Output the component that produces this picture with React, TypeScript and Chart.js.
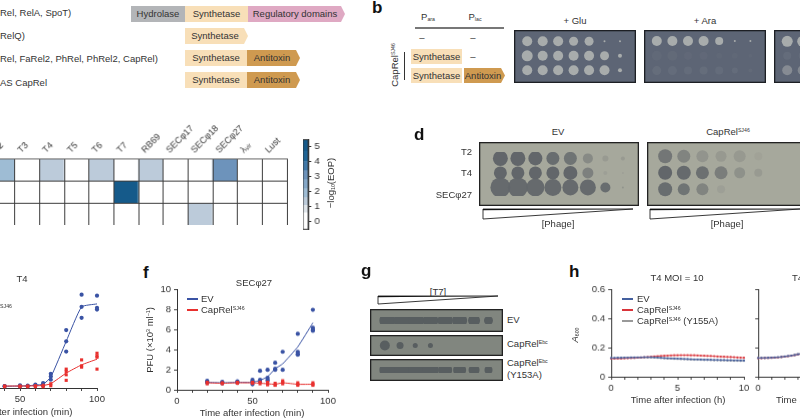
import React, { useEffect, useRef } from "react";
import { Chart, registerables } from "chart.js";

Chart.register(...registerables);
const FONT = "'Liberation Sans', Arial, sans-serif";
Chart.defaults.font.family = FONT;
Chart.defaults.font.size = 9.5;
Chart.defaults.color = "#333";

// ---------- data ----------
const heatColumns = ["T2", "T3", "T4", "T5", "T6", "T7", "RB69", "SECφ17", "SECφ18", "SECφ27", "λᵥᵢᵣ", "Lust"];
const heatRowA = [2.0, 0, 1.4, 0, 1.4, 0, 1.4, 0, 0, 3, 0, 0];
const heatRowB = [0, 0, 0, 0, 0, 5, 0, 0, 0, 0, 0, 0];
const heatRowC = [0, 0, 0, 0, 0, 0, 0, 0, 1.4, 0, 0, 0];
const binEdges = [-0.5, 0.6, 1.1, 1.6, 2.2, 2.8, 3.4, 4.0, 4.7, 5.45];
const binColors = ["#ffffff", "#dfe5ea", "#bccbda", "#9ebcd4", "#85a8c8", "#6d93bb", "#3f78a8", "#1f6596", "#155a8a"];

const eTimes = [40, 50, 55, 60, 65, 70, 80, 90, 100];
const eEvPoints = [[0.2, 0.17], [0.27, 0.17], [0.23, 0.17], [0.33, 0.23], [0.5, 0.33, 0.23], [1.43, 1.17, 0.83], [5.83, 4.7, 3.67], [9.4, 8.17, 7.07], [9.3, 8.07, 7.9]];
const eEvLine = [0.17, 0.2, 0.22, 0.3, 0.37, 1.1, 4.7, 8.17, 8.47];
const eCapPoints = [[0.2, 0.13], [0.2, 0.13], [0.2, 0.13], [0.23, 0.13], [0.27, 0.13], [0.43, 0.23], [1.9, 1.67, 1.33, 0.77], [2.83, 2.23, 2.1], [3.5, 3.23, 3.1, 1.9]];
const eCapLine = [0.2, 0.2, 0.2, 0.22, 0.25, 0.43, 1.5, 2.33, 2.9];

const fTimes = [20, 30, 40, 50, 55, 60, 65, 70, 80, 90];
const fEvPoints = [[0.9, 0.8, 0.7], [0.8, 0.7, 0.65], [0.85, 0.75, 0.7], [1.0, 0.85, 0.75, 0.55], [1.9, 1.0, 0.8], [2.0, 1.2, 1.0, 0.9], [2.7, 2.1, 2.0], [3.8, 2.0], [5.6, 3.8, 3.6, 3.5], [8.0, 6.2, 6.0, 5.9]];
const fEvLine = [0.75, 0.7, 0.75, 0.75, 0.95, 1.3, 2.1, 2.6, 4.3, 6.7];
const fCapPoints = [[0.75, 0.6], [0.7, 0.6], [0.75, 0.65], [0.75, 0.65], [0.75, 0.6], [0.75, 0.6, 0.5], [0.65, 0.5, 0.45], [0.9, 0.75, 0.6], [0.7, 0.55, 0.45], [0.7, 0.55, 0.45]];
const fCapLine = [0.7, 0.65, 0.7, 0.7, 0.65, 0.6, 0.55, 0.7, 0.55, 0.55];

const hHours = [0, 0.25, 0.5, 0.75, 1, 1.25, 1.5, 1.75, 2, 2.25, 2.5, 2.75, 3, 3.25, 3.5, 3.75, 4, 4.25, 4.5, 4.75, 5, 5.25, 5.5, 5.75, 6, 6.25, 6.5, 6.75, 7, 7.25, 7.5, 7.75, 8, 8.25, 8.5, 8.75, 9, 9.25, 9.5, 9.75, 10];
const h1Ev = [0.13, 0.13, 0.131, 0.131, 0.132, 0.132, 0.133, 0.133, 0.134, 0.134, 0.135, 0.135, 0.135, 0.134, 0.133, 0.131, 0.129, 0.128, 0.127, 0.126, 0.125, 0.124, 0.123, 0.122, 0.121, 0.12, 0.12, 0.119, 0.118, 0.118, 0.117, 0.116, 0.116, 0.115, 0.115, 0.114, 0.114, 0.113, 0.113, 0.112, 0.112];
const h1Cap = [0.125, 0.125, 0.126, 0.126, 0.127, 0.128, 0.129, 0.13, 0.132, 0.133, 0.135, 0.136, 0.138, 0.14, 0.142, 0.144, 0.145, 0.146, 0.147, 0.148, 0.148, 0.149, 0.149, 0.149, 0.148, 0.148, 0.147, 0.146, 0.145, 0.144, 0.143, 0.142, 0.14, 0.139, 0.138, 0.137, 0.136, 0.135, 0.133, 0.132, 0.131];
const h1Mut = [0.128, 0.128, 0.129, 0.129, 0.13, 0.13, 0.131, 0.131, 0.132, 0.132, 0.133, 0.133, 0.133, 0.132, 0.131, 0.129, 0.127, 0.126, 0.125, 0.124, 0.123, 0.122, 0.121, 0.12, 0.119, 0.118, 0.118, 0.117, 0.116, 0.116, 0.115, 0.114, 0.114, 0.113, 0.113, 0.112, 0.112, 0.111, 0.111, 0.11, 0.11];
const h2Hours = [0, 0.25, 0.5, 0.75, 1, 1.25, 1.5, 1.75, 2, 2.25, 2.5, 2.75, 3, 3.25, 3.5];
const h2Ev = [0.13, 0.13, 0.13, 0.131, 0.132, 0.133, 0.135, 0.137, 0.14, 0.143, 0.146, 0.15, 0.155, 0.16, 0.165];
const h2Cap = [0.128, 0.128, 0.129, 0.13, 0.131, 0.132, 0.134, 0.136, 0.139, 0.142, 0.145, 0.149, 0.154, 0.159, 0.164];
const h2Mut = [0.129, 0.129, 0.13, 0.13, 0.131, 0.132, 0.134, 0.136, 0.139, 0.142, 0.146, 0.15, 0.155, 0.16, 0.166];

const gluRadii = [[5, 5, 5, 4.5, 4.5, 1, 1], [5.5, 5, 5, 5, 5, 4.5, 2], [5, 5, 5, 5, 5, 5, 2]];
const gluAlpha = [[1, 1, 1, 1, 1, 1, 1], [1, 1, 1, 1, 1, 1, 1], [1, 1, 1, 1, 1, 1, 1]];
const araRadii = [[5, 5, 5, 5, 4, 1, 1], [5, 5, 4, 4, 3, 3, 2], [4.5, 4.5, 4, 4, 4, 3, 2]];
const araAlpha = [[1, 1, 1, 1, 1, 1, 1], [0.06, 0.08, 0.05, 0.05, 0.04, 0.04, 0.04], [0.12, 0.1, 0.1, 0.12, 0.1, 0.1, 0.08]];
const thirdRadii = [[5.5, 5.5, 5, 5, 5, 2, 1], [4, 4, 3, 3, 3, 2, 2], [5, 5, 5, 5, 5, 3, 2]];
const thirdAlpha = [[1, 1, 1, 1, 1, 1, 1], [0.1, 0.1, 0.05, 0.05, 0.05, 0.05, 0.05], [0.55, 0.5, 0.5, 0.5, 0.4, 0.3, 0.2]];

const dEvRadii = [[7.5, 7.5, 7, 6.5, 6.5, 5, 3, 2], [6.5, 6.5, 6.5, 6.5, 7, 5.5, 2, 1], [10, 10, 9, 8.5, 8, 8, 5, 1]];
const dEvAlpha = [[1, 1, 1, 0.9, 0.8, 0.45, 0.2, 0.2], [1, 1, 1, 1, 1, 0.6, 0.12, 0.12], [0.95, 0.95, 0.95, 0.95, 0.95, 0.95, 0.9, 0.3]];
const dCapRadii = [[7, 6.5, 6, 5.5, 6, 4], [7, 7, 6.5, 6.5, 5.5, 4], [7, 6, 6, 4, 0, 0]];
const dCapAlpha = [[0.75, 0.55, 0.3, 0.22, 0.22, 0.08], [1, 0.95, 0.85, 0.65, 0.35, 0.2], [0.9, 0.8, 0.55, 0.12, 0, 0]];

const gEvRadii = [[8, 8, 8, 7.5, 7.5, 7.5, 6, 4.5]];
const gCapRadii = [[5, 3.5, 2.5, 2.5, 0, 0, 0, 0]];
const gMutRadii = [[8, 8, 8, 8, 7, 6.5, 5.5, 4]];
const solidRow = [[1, 1, 1, 1, 1, 1, 1, 1]];

// ---------- helpers ----------
type Rect = { x: number; y: number; w: number; h: number };

function Panel({ left, top, width, height, make, blur }: any) {
  const ref = useRef<HTMLCanvasElement>(null);
  useEffect(() => {
    const c = new Chart(ref.current as HTMLCanvasElement, make());
    return () => c.destroy();
  }, []);
  return (
    <canvas
      ref={ref}
      width={width}
      height={height}
      style={{ position: "absolute", left, top, width, height, filter: blur ? `blur(${blur}px)` : undefined }}
    />
  );
}

function T({ x, y, s = 9.5, a = "l", b, c = "#333", rot, children }: any) {
  const tx = a === "l" ? "0" : a === "r" ? "-100%" : "-50%";
  return (
    <div
      style={{
        position: "absolute", left: x, top: y, fontFamily: FONT, fontSize: s, lineHeight: 1, color: c,
        fontWeight: b ? 700 : 400, whiteSpace: "nowrap",
        transform: `translate(${tx},-50%)${rot ? ` rotate(${rot}deg)` : ""}`,
      }}
    >
      {children}
    </div>
  );
}
const Sup = ({ children }: any) => <sup style={{ fontSize: "55%", lineHeight: 0, verticalAlign: "0.55em" }}>{children}</sup>;
const Sub = ({ children }: any) => <sub style={{ fontSize: "55%", lineHeight: 0, verticalAlign: "-0.2em" }}>{children}</sub>;

function Dom({ x, y, w, h = 16, c, arrow, children }: any) {
  const p = arrow ? `polygon(0 0, ${w - 4}px 0, ${w}px 50%, ${w - 4}px 100%, 0 100%)` : undefined;
  return (
    <div
      style={{
        position: "absolute", left: x, top: y, width: w, height: h, background: c, clipPath: p, fontFamily: FONT,
        fontSize: 9.5, color: "#333", lineHeight: `${h}px`, textAlign: "center", paddingRight: arrow ? 3 : 0, boxSizing: "border-box",
      }}
    >
      {children}
    </div>
  );
}

function Wedge({ x, y, w, h }: any) {
  return (
    <svg style={{ position: "absolute", left: x, top: y, overflow: "visible" }} width={w} height={h}>
      <polygon points={`0,0 ${w},0 0,${h}`} fill="#fff" stroke="#222" strokeWidth={0.9} />
      <polygon points={`0,0 ${w},0 0,1.2`} fill="#111" />
    </svg>
  );
}

const Key = ({ x, y, c }: any) => <div style={{ position: "absolute", left: x, top: y - 0.75, width: 11, height: 1.5, background: c }} />;

function plotConfig(datasets: any[], r: Rect, m: any, xo: any, yo: any) {
  return {
    type: "scatter",
    data: { datasets },
    options: {
      animation: false, responsive: false, events: [],
      layout: { padding: { top: m.t, right: m.r } },
      plugins: { legend: { display: false }, tooltip: { enabled: false } },
      scales: {
        x: {
          type: "linear", ...xo,
          grid: { drawOnChartArea: false, tickLength: 3, color: "#333", lineWidth: 0.9 },
          border: { color: "#333", width: 1 },
          ticks: { ...xo.ticks, autoSkip: false, padding: 3, maxRotation: 0, minRotation: 0 },
          afterFit: (s: any) => { s.height = m.b; },
        },
        y: {
          type: "linear", ...yo,
          grid: { drawOnChartArea: false, tickLength: 3, color: "#333", lineWidth: 0.9 },
          border: { color: "#333", width: 1 },
          ticks: { ...yo.ticks, autoSkip: false, padding: 3 },
          afterFit: (s: any) => { s.width = m.l; },
        },
      },
    },
  };
}
const spread = (times: number[], vals: number[][]) => times.flatMap((t, i) => vals[i].map((y) => ({ x: t, y })));
const zipLine = (times: number[], vals: number[]) => times.map((t, i) => ({ x: t, y: vals[i] }));
const pts = (data: any[], color: string, style: string, radius: number) => ({ data, pointStyle: style, pointRadius: radius, pointBackgroundColor: color, pointBorderWidth: 0, showLine: false, clip: false });
const line = (data: any[], color: string) => ({ data, showLine: true, pointRadius: 0, borderColor: color, borderWidth: 1, tension: 0.15, clip: false });
const BLUE = "#3a53a4";
const RED = "#e8302e";
const M = { l: 30, t: 8, r: 14, b: 34 };
const place = (r: Rect) => ({ left: r.x - M.l, top: r.y - M.t, width: r.w + M.l + M.r, height: r.h + M.t + M.b });

const timeAxis = (max: number, step: number, major: number) => ({
  min: 0, max,
  ticks: { stepSize: step, callback: (v: number) => (v % major === 0 ? String(v) : "") },
});

const rectE = { x: -57.3, y: 288.3, w: 154.6, h: 100 };
const rectF = { x: 176.7, y: 289.3, w: 151.4, h: 100.7 };
const rectH1 = { x: 611, y: 289, w: 132.7, h: 87.7 };
const rectH2 = { x: 758.3, y: 289, w: 132.7, h: 87.7 };

const makeE = () => plotConfig(
  [pts(spread(eTimes, eCapPoints), RED, "rect", 2.2), line(zipLine(eTimes, eCapLine), RED), pts(spread(eTimes, eEvPoints), BLUE, "circle", 2.1), line(zipLine(eTimes, eEvLine), BLUE)],
  rectE, M, timeAxis(100, 10, 50), { min: 0, max: 10, ticks: { stepSize: 2 } });
const makeF = () => plotConfig(
  [pts(spread(fTimes, fCapPoints), RED, "rect", 2.2), line(zipLine(fTimes, fCapLine), RED), pts(spread(fTimes, fEvPoints), BLUE, "circle", 2.1), line(zipLine(fTimes, fEvLine), BLUE)],
  rectF, M, timeAxis(100, 10, 50), { min: 0, max: 10, ticks: { stepSize: 2 } });

const hDash = (data: any[], color: string) => ({ data, showLine: true, borderColor: color, borderWidth: 0.8, pointRadius: 1.1, pointBackgroundColor: color, pointBorderWidth: 0, clip: false });
const hY = (show: boolean) => ({ min: 0, max: 0.6, ticks: { stepSize: 0.2, callback: (v: number) => (!show ? "" : Math.abs(v) < 1e-6 ? "0" : v.toFixed(1)) } });
const makeH1 = () => plotConfig(
  [hDash(zipLine(hHours, h1Ev), "#44609f"), hDash(zipLine(hHours, h1Cap), "#d9343a"), hDash(zipLine(hHours, h1Mut), "#999")],
  rectH1, M, timeAxis(10, 1, 5), hY(true));
const makeH2 = () => plotConfig(
  [hDash(zipLine(h2Hours, h2Ev), "#44609f"), hDash(zipLine(h2Hours, h2Cap), "#d9343a"), hDash(zipLine(h2Hours, h2Mut), "#999")],
  rectH2, M, timeAxis(10, 1, 5), hY(false));

const eopColor = (v: number) => {
  let i = binColors.length - 1;
  while (i > 0 && v < binEdges[i]) i--;
  return binColors[i];
};

const heatRect = { x: -9.7, y: 158.3, w: 296.7, h: 66.7 };
const makeHeat = () => ({
  type: "bar",
  data: {
    labels: heatColumns,
    datasets: [heatRowA, heatRowB, heatRowC].map((row) => ({
      data: row.map(() => 1),
      backgroundColor: row.map(eopColor),
      borderWidth: 0,
      barPercentage: 1,
      categoryPercentage: 1,
    })),
  },
  options: {
    animation: false, responsive: false, events: [],
    layout: { padding: { right: 30 } },
    plugins: { legend: { display: false }, tooltip: { enabled: false } },
    scales: {
      x: {
        position: "top", stacked: true,
        grid: { offset: true, drawTicks: false, color: "#3c3c3c", lineWidth: 1, z: 1 },
        border: { color: "#666", width: 1, z: 2 },
        ticks: { minRotation: 45, maxRotation: 45, autoSkip: false, padding: 3, font: { size: 9 } },
        afterFit: (s: any) => { s.height = 40; },
      },
      y: {
        stacked: true, min: 0, max: 3, reverse: true,
        grid: { drawTicks: false, color: "#3c3c3c", lineWidth: 1, z: 1 },
        border: { display: false },
        ticks: { stepSize: 1, display: false },
        afterFit: (s: any) => { s.width = 0; },
      },
    },
  },
});

const barRect = { x: 303, y: 137, w: 5.5, h: 95 };
const frame = {
  id: "frame",
  afterDraw(c: any) {
    const a = c.chartArea, g = c.ctx;
    g.save(); g.strokeStyle = "#333"; g.lineWidth = 1;
    g.strokeRect(a.left, a.top, a.right - a.left, a.bottom - a.top);
    g.restore();
  },
};
const makeBar = () => ({
  type: "bar",
  data: {
    labels: ["EOP"],
    datasets: binColors.map((col, i) => ({
      data: [[binEdges[i], binEdges[i + 1]]],
      backgroundColor: col, borderWidth: 0, barPercentage: 1, categoryPercentage: 1,
    })),
  },
  options: {
    animation: false, responsive: false, events: [],
    layout: { padding: { top: 6, bottom: 6 } },
    plugins: { legend: { display: false }, tooltip: { enabled: false } },
    scales: {
      x: { stacked: true, display: false },
      y: {
        position: "right", min: -0.5, max: 5.45,
        grid: { drawOnChartArea: false, tickLength: 3, color: "#333" },
        border: { color: "#333" },
        ticks: { stepSize: 1, padding: 3, callback: (v: number) => (Number.isInteger(v) ? String(v) : "") , includeBounds: false },
        afterFit: (s: any) => { s.width = 24; },
      },
    },
  },
  plugins: [frame],
});

function plateConfig(radii: number[][], alpha: number[][], spot: string, bg: string, xr: number[], yr: number[], edge: string) {
  const data: any[] = [];
  const colors: string[] = [];
  radii.forEach((row, j) => row.forEach((r, i) => {
    if (r > 0) { data.push({ x: i, y: j, r }); colors.push(`rgba(${spot},${alpha[j][i]})`); }
  }));
  return {
    type: "bubble",
    data: { datasets: [{ data, backgroundColor: colors, borderWidth: 0 }] },
    options: {
      animation: false, responsive: false, events: [],
      plugins: { legend: { display: false }, tooltip: { enabled: false } },
      scales: {
        x: { display: false, min: xr[0], max: xr[1] },
        y: { display: false, min: yr[0], max: yr[1], reverse: true },
      },
    },
    plugins: [{
      id: "plate",
      beforeDraw(c: any) {
        c.ctx.save(); c.ctx.fillStyle = bg; c.ctx.fillRect(0, 0, c.width, c.height); c.ctx.restore();
      },
      afterDraw(c: any) {
        c.ctx.save(); c.ctx.strokeStyle = edge; c.ctx.lineWidth = 1.6; c.ctx.strokeRect(0.5, 0.5, c.width - 1, c.height - 1); c.ctx.restore();
      },
    }],
  };
}
const B_SPOT = "168,172,172", B_BG = "#5d6575", B_EDGE = "#1d1f24";
const bx = [-0.5, 6.68], by = [-0.4, 2.5];
const D_SPOT = "98,102,106", D_BG = "#a6a89c", D_EDGE = "#222";
const G_SPOT = "88,94,96", G_BG = "#81867f", G_EDGE = "#222";

const Plate = ({ x, y, w, h, make }: any) => <Panel left={x} top={y} width={w} height={h} make={make} blur={0.5} />;

export default function App() {
  return (
    <div style={{ position: "fixed", left: 0, top: 0, width: 800, height: 419, overflow: "hidden", background: "#fff" }}>
      {/* a */}
      <T x={0} y={13}>Rel, RelA, SpoT)</T>
      <T x={0} y={36}>RelQ)</T>
      <T x={0} y={59}>Rel, FaRel2, PhRel, PhRel2, CapRel)</T>
      <T x={0} y={83}>AS CapRel</T>
      <Dom x={131} y={6} w={54} c="#b3b5b8">Hydrolase</Dom>
      <Dom x={185} y={6} w={63} c="#f8dfb8">Synthetase</Dom>
      <Dom x={248} y={6} w={97} c="#dfa9c3" arrow>Regulatory domains</Dom>
      <Dom x={185} y={28} w={63} c="#f8dfb8" arrow>Synthetase</Dom>
      <Dom x={185} y={50} w={62} c="#f8dfb8">Synthetase</Dom>
      <Dom x={247} y={50} w={53} c="#cf9a50" arrow>Antitoxin</Dom>
      <Dom x={185} y={72} w={62} c="#f8dfb8">Synthetase</Dom>
      <Dom x={247} y={72} w={53} c="#cf9a50" arrow>Antitoxin</Dom>

      {/* b */}
      <T x={372} y={7} s={17} b c="#111">b</T>
      <T x={428} y={17} a="c">P<Sub>ara</Sub></T>
      <T x={475} y={17} a="c">P<Sub>lac</Sub></T>
      <div style={{ position: "absolute", left: 415, top: 27, width: 89, height: 1.5, background: "#777" }} />
      <T x={422} y={38} a="c">–</T>
      <T x={473} y={38} a="c">–</T>
      <T x={473} y={57} a="c">–</T>
      <T x={395} y={65} a="c" s={9.5} rot={-90}>CapRel<Sup>SJ46</Sup></T>
      <div style={{ position: "absolute", left: 404, top: 52, width: 1, height: 28, background: "#333" }} />
      <Dom x={411} y={49} w={51} h={15} c="#f8dfb8">Synthetase</Dom>
      <Dom x={411} y={68} w={51} h={15} c="#f8dfb8">Synthetase</Dom>
      <Dom x={464} y={68} w={41} h={15} c="#cf9a50" arrow>Antitoxin</Dom>
      <T x={575} y={21} a="c">+ Glu</T>
      <T x={705} y={21} a="c">+ Ara</T>
      <Plate x={514} y={30} w={122} h={53} make={() => plateConfig(gluRadii, gluAlpha, B_SPOT, B_BG, bx, by, B_EDGE)} />
      <Plate x={644} y={30} w={122} h={53} make={() => plateConfig(araRadii, araAlpha, B_SPOT, B_BG, bx, by, B_EDGE)} />
      <Plate x={774} y={30} w={122} h={53} make={() => plateConfig(thirdRadii, thirdAlpha, B_SPOT, B_BG, bx, by, B_EDGE)} />

      {/* c */}
      <Panel left={heatRect.x} top={heatRect.y - 40} width={heatRect.w + 30} height={heatRect.h + 40} make={makeHeat} />
      <Panel left={barRect.x - 0} top={barRect.y - 6} width={barRect.w + 24} height={barRect.h + 12} make={makeBar} />
      <T x={331} y={183} a="c" rot={-90}>−log<Sub>10</Sub>(EOP)</T>

      {/* d */}
      <T x={414} y={134} s={17} b c="#111">d</T>
      <T x={558} y={132} a="c">EV</T>
      <T x={728} y={132} a="c">CapRel<Sup>SJ46</Sup></T>
      <T x={472} y={152} a="r">T2</T>
      <T x={472} y={173} a="r">T4</T>
      <T x={472} y={195} a="r">SECφ27</T>
      <Plate x={479} y={142} w={160} h={64} make={() => plateConfig(dEvRadii, dEvAlpha, D_SPOT, D_BG, [-0.65, 7.35], [-0.44, 2.59], D_EDGE)} />
      <Plate x={647} y={142} w={160} h={64} make={() => plateConfig(dCapRadii, dCapAlpha, D_SPOT, D_BG, [-0.6, 7.24], [-0.44, 2.59], D_EDGE)} />
      <Wedge x={483} y={209} w={150} h={10} />
      <Wedge x={650} y={209} w={150} h={10} />
      <T x={558} y={224} a="c">[Phage]</T>
      <T x={727} y={224} a="c">[Phage]</T>

      {/* e */}
      <Panel {...place(rectE)} make={makeE} />
      <T x={22} y={279} a="c">T4</T>
      <T x={12} y={308} a="r">CapRel<Sup>SJ46</Sup></T>
      <T x={20} y={412} a="c">Time after infection (min)</T>

      {/* f */}
      <T x={143} y={272} s={17} b c="#111">f</T>
      <Panel {...place(rectF)} make={makeF} />
      <T x={254} y={283} a="c">SECφ27</T>
      <Key x={187} y={299} c={BLUE} />
      <T x={201} y={299}>EV</T>
      <Key x={187} y={310} c={RED} />
      <T x={201} y={310}>CapRel<Sup>SJ46</Sup></T>
      <T x={150} y={340} a="c" rot={-90}>PFU (×10<Sup>3</Sup> ml<Sup>−1</Sup>)</T>
      <T x={252} y={413} a="c">Time after infection (min)</T>

      {/* g */}
      <T x={361} y={270} s={17} b c="#111">g</T>
      <T x={438} y={292} a="c">[T7]</T>
      <Wedge x={378} y={296} w={120} h={8} />
      <Plate x={370} y={309} w={133} h={23} make={() => plateConfig(gEvRadii, solidRow, G_SPOT, G_BG, [-0.65, 7.45], [-0.5, 0.5], G_EDGE)} />
      <Plate x={370} y={335} w={133} h={21} make={() => plateConfig(gCapRadii, solidRow, G_SPOT, G_BG, [-0.65, 7.45], [-0.5, 0.5], G_EDGE)} />
      <Plate x={370} y={359} w={133} h={22} make={() => plateConfig(gMutRadii, solidRow, G_SPOT, G_BG, [-0.65, 7.45], [-0.5, 0.5], G_EDGE)} />
      <T x={507} y={320}>EV</T>
      <T x={507} y={344}>CapRel<Sup>Ebc</Sup></T>
      <T x={507} y={363}>CapRel<Sup>Ebc</Sup></T>
      <T x={507} y={375}>(Y153A)</T>

      {/* h */}
      <T x={569} y={271} s={17} b c="#111">h</T>
      <Panel {...place(rectH1)} make={makeH1} />
      <Panel {...place(rectH2)} make={makeH2} />
      <T x={677} y={278} a="c">T4 MOI = 10</T>
      <T x={792} y={278}>T4 MOI = 0.1</T>
      <Key x={622} y={299} c="#44609f" />
      <T x={637} y={299}>EV</T>
      <Key x={622} y={310} c="#d9343a" />
      <T x={637} y={310}>CapRel<Sup>SJ46</Sup></T>
      <Key x={622} y={321} c="#999" />
      <T x={637} y={321}>CapRel<Sup>SJ46</Sup> (Y155A)</T>
      <T x={575} y={335} a="c" rot={-90}><i>A</i><Sub>600</Sub></T>
      <T x={678} y={400} a="c">Time after infection (h)</T>
      <T x={776} y={400}>Time after infection (h)</T>
    </div>
  );
}
